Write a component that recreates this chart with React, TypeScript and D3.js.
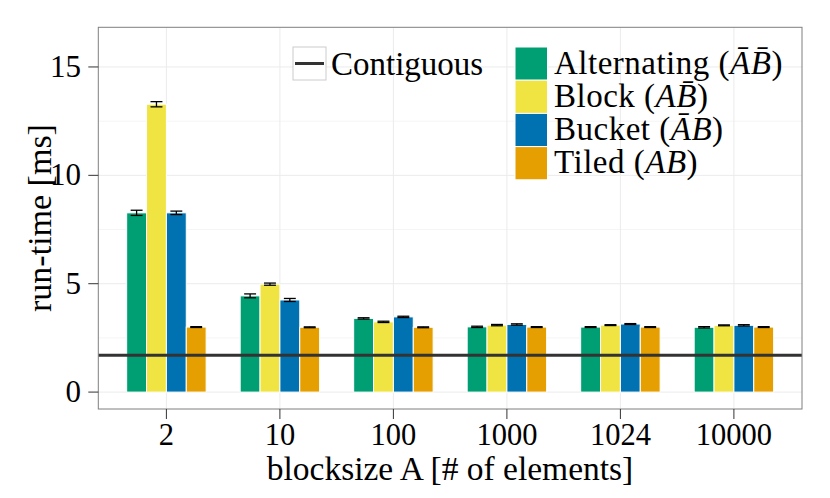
import * as d3 from 'd3';

// run-time per blocksize, four layouts plus the contiguous baseline
const categories = ['2', '10', '100', '1000', '1024', '10000'];
const seriesNames = ['Alternating', 'Block', 'Bucket', 'Tiled'];
const alternating = [8.27, 4.44, 3.4, 3.01, 3.0, 2.99];
const block = [13.28, 4.98, 3.24, 3.09, 3.09, 3.08];
const bucket = [8.27, 4.25, 3.47, 3.12, 3.14, 3.08];
const tiled = [3.0, 2.99, 2.99, 3.0, 3.0, 3.0];
const alternatingErr = [0.12, 0.09, 0.03, 0.03, 0.02, 0.03];
const blockErr = [0.12, 0.05, 0.03, 0.03, 0.02, 0.02];
const bucketErr = [0.08, 0.07, 0.03, 0.03, 0.02, 0.03];
const tiledErr = [0.02, 0.02, 0.02, 0.02, 0.02, 0.02];
const contiguous = 1.7;
const yTicks = [0, 5, 10, 15];
const yMinorTicks = [2.5, 7.5, 12.5];

const colors = ['#009E73', '#F0E442', '#0072B2', '#E69F00'];
// which letters carry a bar in the legend label: [A, B]
const barred = [
  [true, true],
  [false, true],
  [true, false],
  [false, false],
];

const W = 830;
const H = 498;
const panel = { left: 98.3, right: 802, top: 27.3, bottom: 409 };
const font = 'Liberation Serif';

const App = () => {
  const values = [alternating, block, bucket, tiled];
  const errors = [alternatingErr, blockErr, bucketErr, tiledErr];

  const x = d3
    .scaleBand<string>()
    .domain(categories)
    .range([panel.left, panel.right])
    .paddingInner(0.3)
    .paddingOuter(0.25);
  const xSeries = d3
    .scaleBand<string>()
    .domain(seriesNames)
    .range([0, x.bandwidth()]);
  const y = d3
    .scaleLinear()
    .domain([-0.78, 16.83])
    .range([panel.bottom, panel.top]);

  const center = (c: string) => (x(c) as number) + x.bandwidth() / 2;
  const bw = xSeries.bandwidth();

  const label = (name: string, i: number) => {
    const [a, b] = barred[i];
    return (
      <>
        <tspan>{name} (</tspan>
        <tspan fontStyle="italic">{a ? 'A\u0304' : 'A'}</tspan>
        <tspan fontStyle="italic">{b ? 'B\u0304' : 'B'}</tspan>
        <tspan>)</tspan>
      </>
    );
  };

  return (
    <svg
      width={W}
      height={H}
      style={{ position: 'absolute', left: 0, top: 0, background: '#fff' }}
      fontFamily={font}
    >
      {/* grid */}
      {yMinorTicks.map((t) => (
        <line key={'m' + t} x1={panel.left} x2={panel.right} y1={y(t)} y2={y(t)} stroke="#F5F5F5" strokeWidth={1} />
      ))}
      {yTicks.map((t) => (
        <line key={'g' + t} x1={panel.left} x2={panel.right} y1={y(t)} y2={y(t)} stroke="#EBEBEB" strokeWidth={1} />
      ))}
      {categories.map((c) => (
        <line key={'v' + c} x1={center(c)} x2={center(c)} y1={panel.top} y2={panel.bottom} stroke="#EBEBEB" strokeWidth={1} />
      ))}

      {/* bars */}
      {categories.map((c, ci) =>
        seriesNames.map((s, si) => (
          <rect
            key={c + s}
            x={(x(c) as number) + (xSeries(s) as number)}
            y={y(values[si][ci])}
            width={bw}
            height={y(0) - y(values[si][ci])}
            fill={colors[si]}
            stroke="#fff"
            strokeWidth={1}
          />
        ))
      )}

      {/* error bars */}
      {categories.map((c, ci) =>
        seriesNames.map((s, si) => {
          const cx = (x(c) as number) + (xSeries(s) as number) + bw / 2;
          const hw = bw * 0.3;
          const lo = y(values[si][ci] - errors[si][ci]);
          const hi = y(values[si][ci] + errors[si][ci]);
          return (
            <g key={'e' + c + s} stroke="#000" strokeWidth={1.3}>
              <line x1={cx - hw} x2={cx + hw} y1={hi} y2={hi} />
              <line x1={cx - hw} x2={cx + hw} y1={lo} y2={lo} />
              <line x1={cx} x2={cx} y1={hi} y2={lo} />
            </g>
          );
        })
      )}

      {/* contiguous baseline */}
      <line x1={panel.left} x2={panel.right} y1={y(contiguous)} y2={y(contiguous)} stroke="#333" strokeWidth={3} />

      {/* panel border */}
      <rect
        x={panel.left}
        y={panel.top}
        width={panel.right - panel.left}
        height={panel.bottom - panel.top}
        fill="none"
        stroke="#7F7F7F"
        strokeWidth={1}
      />

      {/* y axis */}
      {yTicks.map((t) => (
        <g key={'yt' + t}>
          <line x1={panel.left - 10} x2={panel.left} y1={y(t)} y2={y(t)} stroke="#333" strokeWidth={1} />
          <text x={81} y={y(t) + 10} textAnchor="end" fontSize={31} fill="#000">
            {t}
          </text>
        </g>
      ))}
      <text
        transform={`translate(51,218) rotate(-90)`}
        textAnchor="middle"
        fontSize={34}
        fill="#000"
      >
        run-time [ms]
      </text>

      {/* x axis */}
      {categories.map((c) => (
        <g key={'xt' + c}>
          <line x1={center(c)} x2={center(c)} y1={panel.bottom} y2={panel.bottom + 10} stroke="#333" strokeWidth={1} />
          <text x={center(c)} y={445} textAnchor="middle" fontSize={30.5} fill="#000">
            {c}
          </text>
        </g>
      ))}
      <text x={450} y={480} textAnchor="middle" fontSize={33.5} fill="#000">
        blocksize A [# of elements]
      </text>

      {/* legend: contiguous */}
      <rect x={293} y={47} width={33} height={33} fill="#fff" stroke="#CCCCCC" strokeWidth={1} />
      <line x1={295} x2={324} y1={63.5} y2={63.5} stroke="#333" strokeWidth={3} />
      <text x={331} y={75} fontSize={33} fill="#000">
        Contiguous
      </text>

      {/* legend: layouts */}
      {seriesNames.map((s, i) => (
        <g key={'l' + s}>
          <rect x={515} y={47 + i * 33.2} width={32.5} height={33.2} fill={colors[i]} stroke="#fff" strokeWidth={1} />
          <text x={554} y={73.5 + i * 33.2} fontSize={33} letterSpacing={0.5} fill="#000">
            {label(s, i)}
          </text>
        </g>
      ))}
    </svg>
  );
};

export default App;
